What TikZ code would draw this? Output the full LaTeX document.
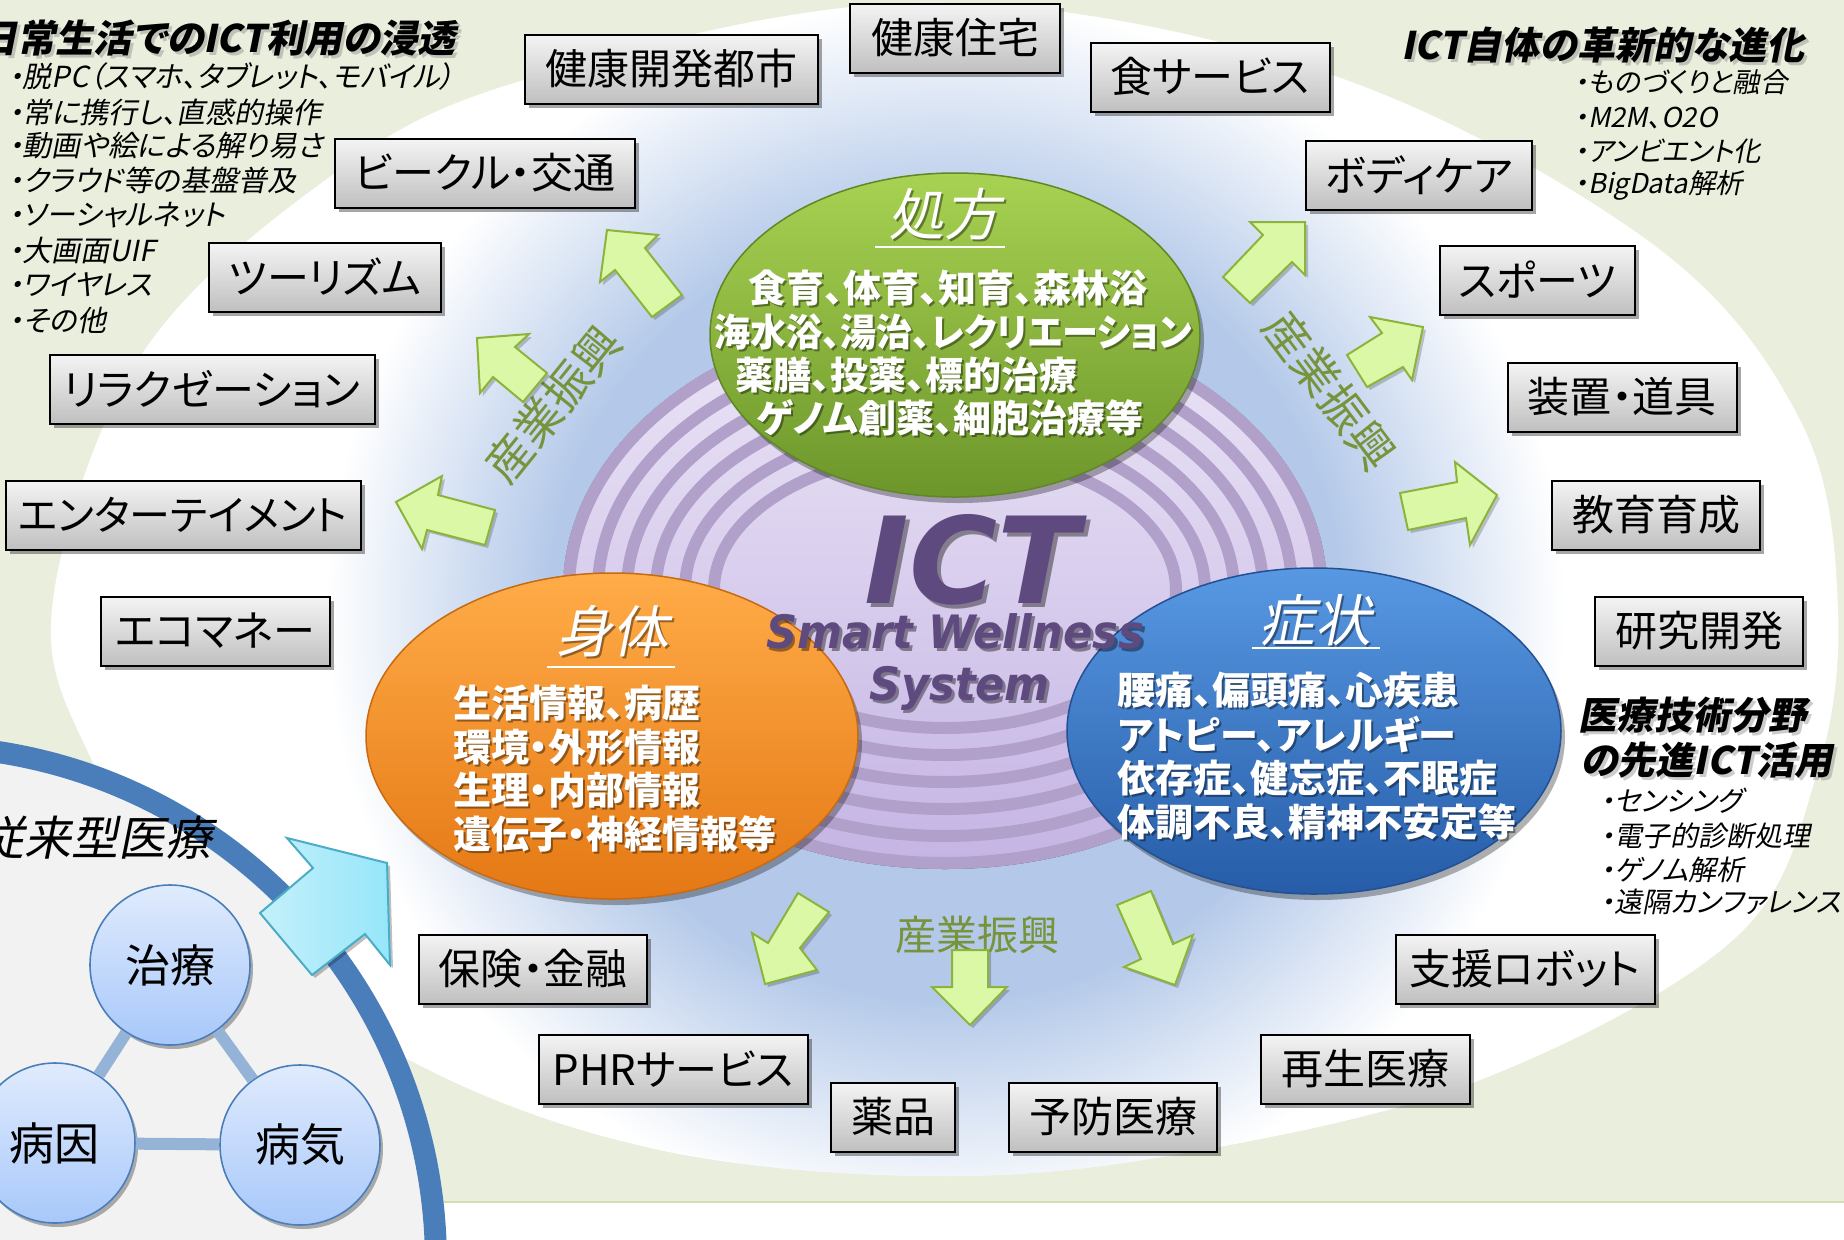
\documentclass[tikz,border=0pt]{standalone}
\usepackage{fontspec}
\setmainfont{Noto Sans CJK JP}[RawFeature={+palt}]
\newfontfamily\jp{Noto Sans CJK JP}[RawFeature={+palt}]
\newfontfamily\jpsl{Noto Sans CJK JP}[RawFeature={+palt},FakeSlant=0.2]
\newfontfamily\ictfont{DejaVu Sans Bold Oblique}
\usetikzlibrary{shadows,shapes.geometric}
\newcommand\fsz[1]{\fontsize{#1}{#1}\selectfont}
\newcommand\shtxt[6]{%
  \node[#3, text=#5, opacity=0.4, xshift=#6, yshift=-#6] (#1s) at #2 {#4};
  \node[#3] (#1) at #2 {#4};}
\definecolor{bggreen}{RGB}{234,238,221}
\definecolor{bgline}{RGB}{210,222,180}
\definecolor{glow}{RGB}{180,201,233}
\definecolor{ringT}{RGB}{236,230,246}
\definecolor{ringB}{RGB}{196,180,228}
\definecolor{ringline}{RGB}{176,160,202}
\definecolor{grT}{RGB}{168,210,82}
\definecolor{grB}{RGB}{108,150,42}
\definecolor{grD}{RGB}{96,134,38}
\definecolor{orT}{RGB}{255,172,72}
\definecolor{orB}{RGB}{228,120,20}
\definecolor{orD}{RGB}{200,106,18}
\definecolor{blT}{RGB}{88,152,226}
\definecolor{blB}{RGB}{38,92,168}
\definecolor{blD}{RGB}{34,80,146}
\definecolor{ictc}{RGB}{94,74,126}
\definecolor{arrF}{RGB}{218,248,166}
\definecolor{arrD}{RGB}{140,180,60}
\definecolor{sangyo}{RGB}{119,147,60}
\definecolor{boxT}{RGB}{244,244,244}
\definecolor{boxB}{RGB}{192,192,192}
\definecolor{panelbg}{RGB}{242,242,242}
\definecolor{panelband}{RGB}{74,126,187}
\definecolor{circT}{RGB}{224,235,253}
\definecolor{circB}{RGB}{168,200,250}
\definecolor{circD}{RGB}{74,126,187}
\definecolor{circL}{RGB}{149,179,215}
\definecolor{cyanT}{RGB}{196,240,250}
\definecolor{cyanB}{RGB}{150,230,250}
\definecolor{cyanD}{RGB}{75,172,198}
\pgfdeclareradialshading{glowshade}{\pgfpoint{0bp}{0bp}}{color(0bp)=(glow); color(16bp)=(glow); color(25bp)=(white); color(50bp)=(white)}
\begin{document}
\begin{tikzpicture}[x=0.5pt,y=-0.5pt,
  every node/.style={inner sep=0pt},
  bx/.style={draw=black, line width=1pt, top color=boxT, bottom color=boxB,
    drop shadow={shadow xshift=2pt, shadow yshift=-2pt, opacity=0.35, fill=black},
    minimum height=34.5pt, font=\jp\fsz{21pt}, text=black},
  wtxt/.style={text=white, font=\jp\bfseries\fsz{19pt}, anchor=west},
  ttl/.style={text=white, font=\jpsl\fsz{28pt}},
  garrow/.style={draw=arrD, line width=1pt, fill=arrF,
    drop shadow={shadow xshift=1.5pt, shadow yshift=-1.5pt, opacity=0.2, fill=black}},
  ctitle/.style={font=\jpsl\bfseries\fsz{19pt}, text=black},
  clist/.style={font=\jpsl\fsz{14.5pt}, text=black, anchor=west},
  cnode/.style={circle, minimum size=80pt, draw=circD, line width=0.8pt,
    top color=circT, bottom color=circB, font=\jp\fsz{22.5pt}, text=black,
    drop shadow={shadow xshift=1.5pt, shadow yshift=-2pt, opacity=0.3, fill=black}},
  sang/.style={text=sangyo, font=\jp\fsz{23pt}}
]
\path[use as bounding box] (0,0) rectangle (1844,1239);
\clip (0,0) rectangle (1844,1239);
% background
\fill[white] (0,0) rectangle (1844,1239);
\fill[bggreen] (0,0) rectangle (1844,1202);
\draw[bgline, line width=1pt] (0,1202) -- (1844,1202);
% white ellipse
\fill[white] plot[smooth cycle, tension=0.6] coordinates {(53,600) (87,750) (200,913) (417,1064) (660,1150) (941,1176) (1190,1152) (1480,1080) (1733,940) (1815,780) (1838,610) (1800,420) (1647,240) (1317,70) (915,3) (514,83) (316,187) (138,360)};
\begin{scope}
\clip plot[smooth cycle, tension=0.6] coordinates {(53,600) (87,750) (200,913) (417,1064) (660,1150) (941,1176) (1190,1152) (1480,1080) (1733,940) (1815,780) (1838,610) (1800,420) (1647,240) (1317,70) (915,3) (514,83) (316,187) (138,360)};
\shade[shading=glowshade] (945,610) ellipse [x radius=620, y radius=610];
\end{scope}
% corner texts
\shtxt{tl}{(456,38)}{ctitle, anchor=east}{日常生活でのICT利用の浸透}{gray}{1.5pt}
\node[clist] (l1) at (8,76) {・脱PC（スマホ、タブレット、モバイル）};
\node[clist] (l2) at (8,112) {・常に携行し、直感的操作};
\node[clist] (l3) at (8,146) {・動画や絵による解り易さ};
\node[clist] (l4) at (8,180) {・クラウド等の基盤普及};
\node[clist] (l5) at (8,215) {・ソーシャルネット};
\node[clist] (l6) at (8,250) {・大画面UIF};
\node[clist] (l7) at (8,285) {・ワイヤレス};
\node[clist] (l8) at (8,320) {・その他};
\shtxt{tr}{(1401,45)}{ctitle, anchor=west}{ICT自体の革新的な進化}{gray}{1.5pt}
\node[clist, font=\jpsl\fsz{13.7pt}] (r1) at (1574,82) {・ものづくりと融合};
\node[clist, font=\jpsl\fsz{13.7pt}] (r2) at (1574,118) {・M2M、O2O};
\node[clist, font=\jpsl\fsz{13.7pt}] (r3) at (1574,151) {・アンビエント化};
\node[clist, font=\jpsl\fsz{13.7pt}] (r4) at (1574,185) {・BigData解析};
\shtxt{mr1}{(1578,715)}{ctitle, anchor=west}{医療技術分野}{gray}{1.5pt}
\shtxt{mr2}{(1580,760)}{ctitle, anchor=west}{の先進ICT活用}{gray}{1.5pt}
\node[clist, font=\jpsl\fsz{14pt}] (m1) at (1600,801) {・センシング};
\node[clist, font=\jpsl\fsz{14pt}] (m2) at (1600,836) {・電子的診断処理};
\node[clist, font=\jpsl\fsz{14pt}] (m3) at (1600,870) {・ゲノム解析};
\node[clist, font=\jpsl\fsz{14pt}] (m4) at (1600,902) {・遠隔カンファレンス};
% rings
\fill[top color=ringT, bottom color=ringB] (945,590) ellipse [x radius=382, y radius=279];
\foreach \j in {0,...,5}{
  \pgfmathsetmacro\rx{231+29*\j}
  \pgfmathsetmacro\ry{138+27*\j}
  \draw[ringline, line width=6pt] (945,590) ellipse [x radius=\rx, y radius=\ry];
}
% three ellipses
\path[draw=grD, line width=0.75pt, top color=grT, bottom color=grB,
  drop shadow={shadow xshift=2pt, shadow yshift=-3pt, opacity=0.3, fill=black}]
  (955,335) ellipse [x radius=245, y radius=162];
\path[draw=orD, line width=0.75pt, top color=orT, bottom color=orB,
  drop shadow={shadow xshift=2pt, shadow yshift=-3pt, opacity=0.3, fill=black}]
  (612,736) ellipse [x radius=246, y radius=163];
\path[draw=blD, line width=0.75pt, top color=blT, bottom color=blB,
  drop shadow={shadow xshift=2pt, shadow yshift=-3pt, opacity=0.3, fill=black}]
  (1314,731) ellipse [x radius=247, y radius=163];
% green ellipse text
\shtxt{gt}{(944,214)}{ttl}{処方}{black}{1pt}
\draw[white, line width=1.2pt] (875,247) -- (1005,247);
\shtxt{g1}{(748,288)}{wtxt}{食育、体育、知育、森林浴}{black}{1pt}
\shtxt{g2}{(714,332)}{wtxt, xscale=0.95}{海水浴、湯治、レクリエーション}{black}{1pt}
\shtxt{g3}{(735,375)}{wtxt}{薬膳、投薬、標的治療}{black}{1pt}
\shtxt{g4}{(757,418)}{wtxt}{ゲノム創薬、細胞治療等}{black}{1pt}
% orange ellipse text
\shtxt{ot}{(612,631)}{ttl}{身体}{black}{1pt}
\draw[white, line width=1.2pt] (547,667) -- (675,667);
\shtxt{o1}{(453,703)}{wtxt}{生活情報、病歴}{black}{1pt}
\shtxt{o2}{(453,747)}{wtxt}{環境・外形情報}{black}{1pt}
\shtxt{o3}{(453,790)}{wtxt}{生理・内部情報}{black}{1pt}
\shtxt{o4}{(453,834)}{wtxt}{遺伝子・神経情報等}{black}{1pt}
% blue ellipse text
\shtxt{bt}{(1315,620)}{ttl}{症状}{black}{1pt}
\draw[white, line width=1.2pt] (1252,648) -- (1380,648);
\shtxt{u1}{(1117,690)}{wtxt}{腰痛、偏頭痛、心疾患}{black}{1pt}
\shtxt{u2}{(1117,734)}{wtxt}{アトピー、アレルギー}{black}{1pt}
\shtxt{u3}{(1117,778)}{wtxt}{依存症、健忘症、不眠症}{black}{1pt}
\shtxt{u4}{(1117,822)}{wtxt}{体調不良、精神不安定等}{black}{1pt}
% ICT
\shtxt{ict}{(972,603)}{anchor=base, text=ictc, font=\ictfont\fsz{60pt}}{ICT}{black}{2pt}
\shtxt{sw}{(955,648)}{anchor=base, text=ictc, font=\ictfont\fsz{23pt}, xscale=0.94}{Smart Wellness}{black}{1.5pt}
\shtxt{sy}{(960,700)}{anchor=base, text=ictc, font=\ictfont\fsz{23pt}, xscale=0.94}{System}{black}{1.5pt}
% industry labels
\node[sang, rotate=51] (sl) at (553,404) {産業振興};
\node[sang, rotate=-53] (sr) at (1330,390) {産業振興};
\node[sang, font=\jp\fsz{20.5pt}] (sbt) at (977,935) {産業振興};
% green arrows
\path[garrow] (607,230) -- (658,235) -- (645,248) -- (682,295) -- (652,317) -- (615,270) -- (600,282) -- cycle;
\path[garrow] (477,338) -- (529,334) -- (515,347) -- (547,373) -- (523,402) -- (493,377) -- (480,393) -- cycle;
\path[garrow] (396,502) -- (442,476) -- (438,495) -- (495,510) -- (485,545) -- (427,530) -- (422,549) -- cycle;
\path[garrow] (1305,222) -- (1305,275) -- (1292,262) -- (1250,303) -- (1223,277) -- (1263,235) -- (1250,222) -- cycle;
\path[garrow] (1423,327) -- (1412,380) -- (1403,367) -- (1367,387) -- (1347,355) -- (1382,333) -- (1370,317) -- cycle;
\path[garrow] (1497,495) -- (1470,545) -- (1466,518) -- (1408,530) -- (1400,493) -- (1457,482) -- (1455,462) -- cycle;
\path[garrow] (765,984) -- (752,933) -- (768,943) -- (798,893) -- (829,912) -- (800,948) -- (817,970) -- cycle;
\path[garrow] (970,1025) -- (932,987) -- (952,987) -- (952,950) -- (988,950) -- (988,987) -- (1007,987) -- cycle;
\path[garrow] (1175,985) -- (1124,967) -- (1141,959) -- (1117,905) -- (1151,891) -- (1173,944) -- (1193,935) -- cycle;
% boxes
\node[bx, minimum width=146.5pt] (b1) at (671,69) {健康開発都市};
\node[bx, minimum width=105pt] (b2) at (955,38) {健康住宅};
\node[bx, minimum width=119.5pt] (b3) at (1210,77) {食サービス};
\node[bx, minimum width=150pt] (b4) at (485,173) {ビークル・交通};
\node[bx, minimum width=113pt] (b5) at (1419,175) {ボディケア};
\node[bx, minimum width=116pt] (b6) at (325,277) {ツーリズム};
\node[bx, minimum width=97.5pt] (b7) at (1537,280) {スポーツ};
\node[bx, minimum width=162.5pt] (b8) at (212,389) {リラクゼーション};
\node[bx, minimum width=114.5pt] (b9) at (1622,397) {装置・道具};
\node[bx, minimum width=177.5pt, font=\jp\fsz{20.5pt}] (b10) at (183,515) {エンターテイメント};
\node[bx, minimum width=104pt] (b11) at (1656,515) {教育育成};
\node[bx, minimum width=114.5pt] (b12) at (215,631) {エコマネー};
\node[bx, minimum width=104pt] (b13) at (1699,631) {研究開発};
\node[bx, minimum width=114pt] (b14) at (533,969) {保険・金融};
\node[bx, minimum width=129.5pt] (b15) at (1525,969) {支援ロボット};
\node[bx, minimum width=134.5pt] (b16) at (673,1069) {PHRサービス};
\node[bx, minimum width=104.5pt] (b17) at (1365,1069) {再生医療};
\node[bx, minimum width=62pt] (b18) at (893,1117) {薬品};
\node[bx, minimum width=104pt] (b19) at (1113,1117) {予防医療};
% left panel
\fill[panelbg] (-81,1263) circle (517);
\draw[panelband, line width=11pt] (-81,1263) circle (517);
\node[anchor=east, font=\jpsl\fsz{23.5pt}, text=black] (juurai) at (213,838) {従来型医療};
\node[cnode] (chiryo) at (170,965) {治療};
\node[cnode] (byoin) at (55,1143) {病因};
\node[cnode] (byoki) at (300,1145) {病気};
\draw[circL, line width=6pt] (chiryo) -- (byoin);
\draw[circL, line width=6pt] (chiryo) -- (byoki);
\draw[circL, line width=6pt] (byoin) -- (byoki);
% cyan arrow
\path[draw=cyanD, line width=1pt, left color=cyanT, right color=cyanB,
  drop shadow={shadow xshift=1.5pt, shadow yshift=-1.5pt, opacity=0.25, fill=black}]
  (387,863) -- (390,965) -- (365,934) -- (312,975) -- (260,913) -- (313,868) -- (287,838) -- cycle;
\end{tikzpicture}
\end{document}
